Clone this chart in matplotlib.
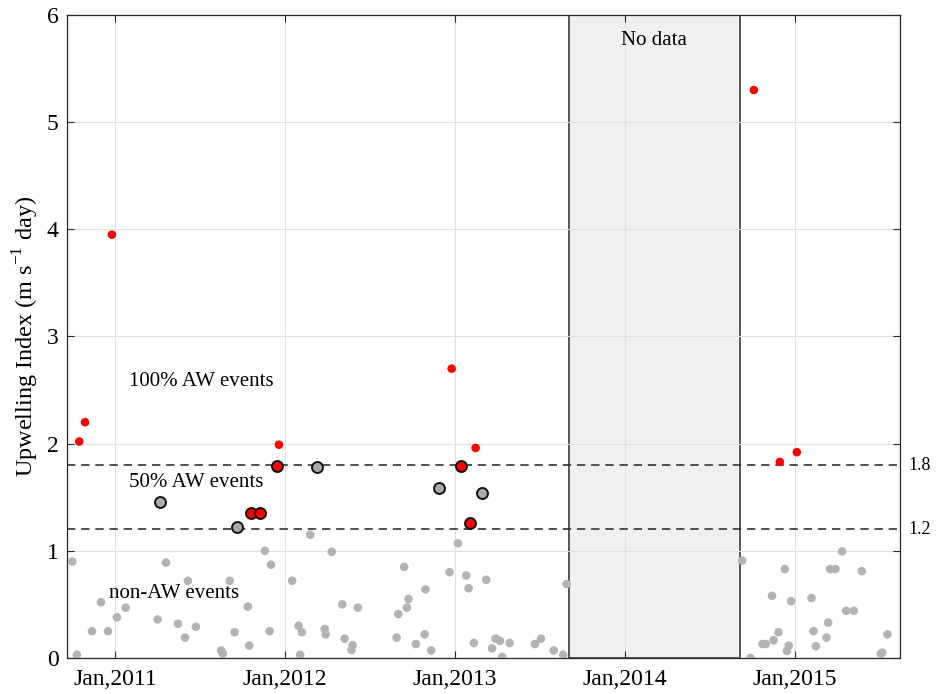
import matplotlib
matplotlib.use("Agg")
import matplotlib.pyplot as plt
from matplotlib.patches import Rectangle

plt.rcParams['font.family'] = ['Liberation Serif', 'DejaVu Serif']
plt.rcParams['mathtext.fontset'] = 'custom'
plt.rcParams['mathtext.rm'] = 'Liberation Serif'

# Event dates (decimal years) and upwelling index values
nonaw_t = [2010.749, 2010.776, 2010.865, 2010.918, 2010.959, 2011.012, 2011.063,
           2011.251, 2011.300, 2011.371, 2011.412, 2011.429, 2011.476, 2011.625,
           2011.635, 2011.675, 2011.704, 2011.782, 2011.790, 2011.882, 2011.910,
           2011.918, 2012.043, 2012.080, 2012.090, 2012.100, 2012.149, 2012.234,
           2012.240, 2012.275, 2012.337, 2012.351, 2012.392, 2012.398, 2012.429,
           2012.657, 2012.667, 2012.702, 2012.718, 2012.727, 2012.771, 2012.822,
           2012.827, 2012.861, 2012.969, 2013.018, 2013.067, 2013.081, 2013.112,
           2013.184, 2013.219, 2013.239, 2013.265, 2013.278, 2013.322, 2013.471,
           2013.506, 2013.582, 2013.637, 2013.657,
           2014.690, 2014.739, 2014.810, 2014.829, 2014.866, 2014.875, 2014.904,
           2014.941, 2014.953, 2014.965, 2014.978, 2015.098, 2015.110, 2015.124,
           2015.186, 2015.196, 2015.208, 2015.239, 2015.278, 2015.302, 2015.347,
           2015.394, 2015.506, 2015.514, 2015.545]
nonaw_ui = [0.90, 0.03, 0.25, 0.52, 0.25, 0.38, 0.47,
            0.36, 0.89, 0.32, 0.19, 0.72, 0.29, 0.07,
            0.04, 0.72, 0.24, 0.48, 0.115, 1.00, 0.25,
            0.87, 0.72, 0.30, 0.03, 0.24, 1.15, 0.27,
            0.22, 0.99, 0.50, 0.18, 0.075, 0.12, 0.47,
            0.19, 0.41, 0.85, 0.47, 0.55, 0.13, 0.22,
            0.64, 0.07, 0.80, 1.07, 0.77, 0.65, 0.14,
            0.73, 0.09, 0.18, 0.16, 0.01, 0.14, 0.13,
            0.18, 0.07, 0.03, 0.69,
            0.91, 0.00, 0.13, 0.13, 0.58, 0.165, 0.24,
            0.83, 0.065, 0.115, 0.53, 0.56, 0.25, 0.11,
            0.19, 0.33, 0.83, 0.83, 0.995, 0.44, 0.44,
            0.81, 0.04, 0.05, 0.22]

half_gray_t = [2011.263, 2011.718, 2012.188, 2012.904, 2013.159]
half_gray_ui = [1.46, 1.22, 1.78, 1.59, 1.54]

half_red_t = [2011.800, 2011.855, 2011.951, 2013.035, 2013.088]
half_red_ui = [1.35, 1.35, 1.79, 1.79, 1.26]

full_t = [2010.790, 2010.824, 2010.982, 2011.965, 2012.981, 2013.122,
          2014.759, 2014.912, 2015.012]
full_ui = [2.02, 2.20, 3.95, 1.99, 2.70, 1.96, 5.30, 1.83, 1.92]

thresholds = [1.8, 1.2]
threshold_labels = ['1.8', '1.2']
gap_start, gap_end = 2013.67, 2014.676
year_ticks = [2011, 2012, 2013, 2014, 2015]
year_labels = ['Jan,2011', 'Jan,2012', 'Jan,2013', 'Jan,2014', 'Jan,2015']

fig = plt.figure(figsize=(9.4, 6.94), dpi=100)
ax = fig.add_axes([0.0713, 0.0519, 0.886, 0.9265])

ax.set_xlim(2010.718, 2015.618)
ax.set_ylim(0, 6)
ax.set_xticks(year_ticks)
ax.set_xticklabels(year_labels)
ax.set_yticks(range(0, 7))
ax.grid(True, color='#e0e0e0', linewidth=0.8)
ax.set_axisbelow(True)
ax.tick_params(direction='in', length=5, width=0.8, labelsize=17, color='#262626',
               top=True, right=True)
ax.tick_params(axis='x', pad=8)
ax.tick_params(axis='y', pad=6)
for s in ax.spines.values():
    s.set_color('#262626')
    s.set_linewidth(0.9)

# Period without observations (kept beneath the grid)
ax.add_patch(Rectangle((gap_start, 0), gap_end - gap_start, 6, facecolor='#f0f0f0',
                       edgecolor='#3a3a3a', linewidth=1.2, zorder=0.3))
ax.text((gap_start + gap_end) / 2, 5.76, 'No data', ha='center', va='center',
        fontsize=15, zorder=2)

# Threshold lines
for th, lab in zip(thresholds, threshold_labels):
    ax.axhline(th, color='#333333', linestyle=(0, (5, 3.5)), linewidth=1.2, zorder=2)
    ax.text(1.01, th, lab, transform=ax.get_yaxis_transform(), ha='left',
            va='center', fontsize=13)

ax.scatter(nonaw_t, nonaw_ui, s=38, color='#b3b3b3', edgecolors='none', zorder=3)
ax.scatter(half_gray_t, half_gray_ui, s=62, color='#aaaaaa', edgecolors='#111111',
           linewidths=1.4, zorder=4)
ax.scatter(half_red_t, half_red_ui, s=62, color='#ff0000', edgecolors='#111111',
           linewidths=1.4, zorder=4)
ax.scatter(full_t, full_ui, s=38, color='#ff0000', edgecolors='none', zorder=4)

ax.text(2011.51, 2.58, '100% AW events', ha='center', va='center', fontsize=15)
ax.text(2011.48, 1.64, '50% AW events', ha='center', va='center', fontsize=15)
ax.text(2011.35, 0.60, 'non-AW events', ha='center', va='center', fontsize=15)

ax.set_ylabel(r'Upwelling Index (m s$^{\mathregular{-1}}$ day)', fontsize=17.5, labelpad=4)

fig.savefig('out.png', dpi=100)
